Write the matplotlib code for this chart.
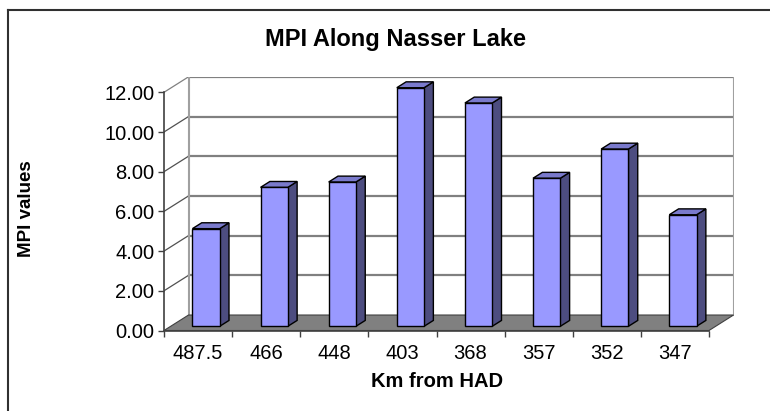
import matplotlib
matplotlib.use("Agg")
import matplotlib.pyplot as plt
from matplotlib.patches import Polygon
from matplotlib.lines import Line2D

plt.rcParams['font.family'] = ['Liberation Sans', 'DejaVu Sans']

# data
categories = ["487.5", "466", "448", "403", "368", "357", "352", "347"]
mpi_values = [4.92, 7.00, 7.27, 12.02, 11.25, 7.46, 8.93, 5.62]
y_ticks = [0, 2, 4, 6, 8, 10, 12]

# fake 3d depth, in data units (x: categories, y: value)
DX, DY = 0.36, 0.78
Z0, Z1 = 0.27, 0.65      # bar front / back depth fraction
BAR_W, BAR_C = 0.40, 0.52

FRONT = "#9999FF"
TOP = "#7A7ACC"
SIDE = "#4D4D80"
GRID = "#808080"

W, H = 770, 411
fig = plt.figure(figsize=(W / 100, H / 100), dpi=100)

n = len(categories)
ymax = y_ticks[-1]

# axes box in pixels: front plane 0..n -> 164..709, 0..12 -> 330.5..92.3
px_x = (709 - 164) / n
px_y = (330.5 - 92.3) / ymax
left, bottom_px = 164, 330.5
width_px = (n + DX) * px_x
height_px = (ymax + DY) * px_y
ax = fig.add_axes([left / W, (H - bottom_px) / H, width_px / W, height_px / H])
ax.set_xlim(0, n + DX)
ax.set_ylim(0, ymax + DY)


def pt(x, y, z):
    return (x + z * DX, y + z * DY)


# side wall and back wall gridlines
for g in y_ticks[1:]:
    ax.plot([0, DX], [g, g + DY], color=GRID if g == ymax else "#505050", lw=0.9, zorder=1)
    ax.plot([DX, n + DX], [g + DY, g + DY], color=GRID, lw=1.6, zorder=1)
ax.plot([DX, DX], [DY, ymax + DY], color="#A0A0A0", lw=1.5, zorder=1)
ax.plot([n + DX, n + DX], [DY, ymax + DY], color="#A0A0A0", lw=1.5, zorder=1)

# floor
floor = Polygon([pt(0, 0, 0), pt(n, 0, 0), pt(n, 0, 1), pt(0, 0, 1)],
                closed=True, facecolor="#808080", edgecolor="#404040", lw=0.8, zorder=2)
ax.add_patch(floor)

# bars
for i, v in enumerate(mpi_values):
    x0 = i + BAR_C - BAR_W / 2
    x1 = i + BAR_C + BAR_W / 2
    side = [pt(x1, 0, Z0), pt(x1, 0, Z1), pt(x1, v, Z1), pt(x1, v, Z0)]
    top = [pt(x0, v, Z0), pt(x1, v, Z0), pt(x1, v, Z1), pt(x0, v, Z1)]
    front = [pt(x0, 0, Z0), pt(x1, 0, Z0), pt(x1, v, Z0), pt(x0, v, Z0)]
    for poly, col in ((side, SIDE), (top, TOP), (front, FRONT)):
        ax.add_patch(Polygon(poly, closed=True, facecolor=col, edgecolor="black",
                             lw=1.0, joinstyle="miter", zorder=3 + i))

# axes / ticks
for s in ("top", "right"):
    ax.spines[s].set_visible(False)
ax.spines["left"].set_bounds(0, ymax)
ax.spines["bottom"].set_bounds(0, n)
for s in ("left", "bottom"):
    ax.spines[s].set_color("#404040")
    ax.spines[s].set_linewidth(1.2)
    ax.spines[s].set_zorder(20)

ax.set_yticks(y_ticks)
ax.set_yticklabels([f"{t:.2f}" for t in y_ticks])
ax.set_xticks(range(n + 1))
ax.set_xticklabels([])
ax.set_xticks([i + 0.5 for i in range(n)], minor=True)
ax.set_xticklabels(categories, minor=True)
ax.tick_params(axis="y", length=4, width=1, color="#404040", labelsize=14.5, pad=3)
ax.tick_params(axis="x", which="major", length=4, width=1, color="#404040")
ax.tick_params(axis="x", which="minor", length=0, labelsize=14.5, pad=10)
ax.set_facecolor("none")

# titles
fig.text(396 / W, 1 - 39.5 / H, "MPI Along Nasser Lake", ha="center", va="center",
         fontsize=17, fontweight="bold")
fig.text(437 / W, 1 - 381.5 / H, "Km from HAD", ha="center", va="center",
         fontsize=14.5, fontweight="bold")
fig.text(27 / W, 1 - 209 / H, "MPI values", ha="center", va="center",
         rotation=90, fontsize=13.5, fontweight="bold")

# chart frame (right and bottom edges fall outside the picture)
fig.add_artist(Line2D([8 / W, 1.01], [1 - 10 / H, 1 - 10 / H], color="#303030", lw=1.5))
fig.add_artist(Line2D([8 / W, 8 / W], [1 - 10 / H, -0.01], color="#303030", lw=1.5))

fig.savefig("out.png", dpi=100)
